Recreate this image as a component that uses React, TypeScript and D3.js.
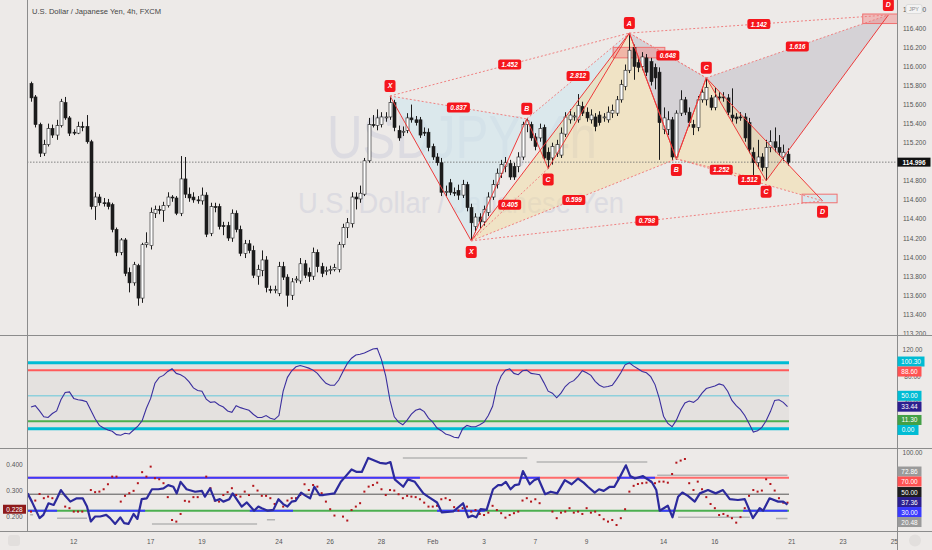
import { useEffect, useRef } from "react"
import * as d3 from "d3"

// ---- values ----------------------------------------------------------------

// USDJPY 4h candles: [open, high, low, close]
const candles: [number, number, number, number][] = [
  [115.82, 115.84, 115.63, 115.67], [115.68, 115.7, 115.36, 115.39], [115.39, 115.41, 115.05, 115.09], [115.09, 115.23, 115.06, 115.18], [115.18, 115.4, 115.16, 115.35],
  [115.35, 115.39, 115.25, 115.28], [115.28, 115.44, 115.23, 115.38], [115.38, 115.66, 115.36, 115.63], [115.62, 115.68, 115.44, 115.46], [115.46, 115.48, 115.27, 115.3],
  [115.31, 115.34, 115.28, 115.3], [115.3, 115.42, 115.29, 115.37], [115.37, 115.42, 115.32, 115.36], [115.37, 115.49, 115.19, 115.21], [115.21, 115.23, 114.5, 114.53],
  [114.53, 114.68, 114.39, 114.63], [114.63, 114.66, 114.54, 114.57], [114.57, 114.62, 114.53, 114.56], [114.57, 114.61, 114.5, 114.53], [114.55, 114.57, 114.26, 114.29],
  [114.29, 114.31, 114.01, 114.05], [114.05, 114.2, 114.02, 114.18], [114.18, 114.2, 113.8, 113.83], [113.84, 113.89, 113.63, 113.73], [113.73, 113.95, 113.7, 113.92],
  [113.91, 113.93, 113.49, 113.57], [113.57, 114.15, 113.52, 114.13], [114.13, 114.26, 114.1, 114.15], [114.12, 114.52, 114.08, 114.47], [114.46, 114.54, 114.41, 114.5],
  [114.5, 114.54, 114.45, 114.49], [114.49, 114.58, 114.37, 114.54], [114.54, 114.68, 114.52, 114.63], [114.63, 114.65, 114.58, 114.62], [114.62, 114.64, 114.44, 114.46],
  [114.46, 115.06, 114.43, 114.82], [114.82, 115.05, 114.62, 114.66], [114.66, 114.73, 114.58, 114.62], [114.63, 114.68, 114.57, 114.6], [114.6, 114.64, 114.56, 114.59],
  [114.59, 114.73, 114.55, 114.65], [114.65, 114.68, 114.21, 114.24], [114.25, 114.57, 114.22, 114.53], [114.53, 114.57, 114.47, 114.52], [114.53, 114.56, 114.29, 114.32],
  [114.33, 114.37, 114.23, 114.32], [114.33, 114.37, 114.17, 114.2], [114.2, 114.5, 114.16, 114.46], [114.46, 114.49, 114.26, 114.29], [114.29, 114.33, 114.01, 114.04],
  [114.04, 114.18, 113.99, 114.14], [114.14, 114.18, 114.04, 114.07], [114.07, 114.12, 113.78, 113.81], [113.8, 113.92, 113.71, 113.87], [113.86, 114.07, 113.8, 113.97],
  [113.97, 114.01, 113.63, 113.68], [113.66, 113.7, 113.62, 113.65], [113.65, 113.7, 113.62, 113.66], [113.62, 113.95, 113.59, 113.9], [113.9, 113.95, 113.76, 113.79],
  [113.79, 113.82, 113.48, 113.6], [113.6, 113.78, 113.55, 113.74], [113.76, 113.8, 113.73, 113.77], [113.75, 113.99, 113.72, 113.93], [113.93, 113.97, 113.78, 113.81],
  [113.84, 113.89, 113.74, 113.8], [113.8, 114.1, 113.76, 114.05], [114.05, 114.08, 113.84, 113.9], [113.9, 113.94, 113.79, 113.83], [113.85, 113.9, 113.81, 113.86],
  [113.86, 113.91, 113.82, 113.87], [113.87, 113.93, 113.85, 113.89], [113.87, 114.16, 113.84, 114.13], [114.13, 114.35, 114.1, 114.31], [114.31, 114.41, 114.2, 114.36],
  [114.35, 114.68, 114.31, 114.63], [114.63, 114.68, 114.5, 114.61], [114.61, 114.75, 114.57, 114.67], [114.66, 115.04, 114.64, 115.01], [115.01, 115.46, 114.99, 115.39],
  [115.39, 115.49, 115.36, 115.38], [115.38, 115.55, 115.33, 115.46], [115.39, 115.52, 115.36, 115.47], [115.46, 115.52, 115.42, 115.47], [115.47, 115.69, 115.44, 115.62],
  [115.62, 115.65, 115.32, 115.36], [115.33, 115.38, 115.22, 115.25], [115.31, 115.37, 115.27, 115.32], [115.33, 115.51, 115.3, 115.46], [115.46, 115.6, 115.41, 115.44],
  [115.44, 115.48, 115.38, 115.41], [115.44, 115.47, 115.25, 115.28], [115.31, 115.36, 115.27, 115.3], [115.31, 115.35, 115.11, 115.15], [115.16, 115.19, 115.02, 115.05],
  [115.05, 115.09, 114.96, 114.99], [114.99, 115.04, 114.64, 114.68], [114.68, 114.75, 114.64, 114.69], [114.78, 114.82, 114.65, 114.68], [114.68, 114.73, 114.64, 114.67],
  [114.7, 114.76, 114.6, 114.65], [114.65, 114.81, 114.62, 114.76], [114.76, 114.79, 114.48, 114.52], [114.52, 114.56, 114.17, 114.36], [114.32, 114.46, 114.26, 114.42],
  [114.42, 114.46, 114.3, 114.37], [114.37, 114.54, 114.33, 114.5], [114.47, 114.68, 114.43, 114.63], [114.63, 114.81, 114.6, 114.76], [114.76, 114.93, 114.72, 114.88],
  [114.88, 115.02, 114.83, 114.97], [114.95, 115.05, 114.89, 114.99], [114.98, 115.02, 114.81, 114.84], [114.95, 114.99, 114.81, 114.84], [114.95, 115.1, 114.89, 115.05],
  [115.05, 115.42, 115.02, 115.39], [115.39, 115.46, 115.31, 115.43], [115.39, 115.42, 115.22, 115.25], [115.26, 115.3, 115.12, 115.16], [115.25, 115.4, 115.21, 115.35],
  [115.36, 115.39, 115.02, 115.04], [115.1, 115.15, 114.93, 115.02], [115.04, 115.2, 114.97, 115.16], [115.09, 115.23, 115.05, 115.18], [115.07, 115.36, 115.04, 115.3],
  [115.29, 115.52, 115.26, 115.47], [115.44, 115.55, 115.4, 115.49], [115.47, 115.52, 115.43, 115.48], [115.44, 115.71, 115.41, 115.59], [115.58, 115.63, 115.48, 115.51],
  [115.52, 115.57, 115.42, 115.46], [115.44, 115.55, 115.4, 115.49], [115.47, 115.51, 115.32, 115.37], [115.49, 115.53, 115.38, 115.41], [115.46, 115.51, 115.42, 115.47],
  [115.44, 115.58, 115.41, 115.52], [115.51, 115.6, 115.46, 115.54], [115.51, 115.69, 115.48, 115.65], [115.65, 115.86, 115.62, 115.81], [115.79, 116.02, 115.75, 115.96],
  [115.96, 116.35, 115.93, 116.17], [116.2, 116.23, 115.86, 116.0], [116.04, 116.09, 115.94, 115.99], [116.0, 116.15, 115.96, 116.1], [116.09, 116.13, 115.9, 115.94],
  [116.05, 116.09, 115.8, 115.84], [115.99, 116.03, 115.76, 115.88], [115.94, 115.99, 115.02, 115.41], [115.34, 115.57, 115.29, 115.46], [115.34, 115.53, 115.28, 115.44],
  [115.44, 115.47, 115.02, 115.05], [115.05, 115.54, 115.02, 115.51], [115.51, 115.75, 115.48, 115.65], [115.65, 115.68, 115.49, 115.52], [115.52, 115.57, 115.37, 115.41],
  [115.39, 115.44, 115.28, 115.36], [115.36, 115.69, 115.32, 115.65], [115.65, 115.78, 115.62, 115.73], [115.65, 115.88, 115.59, 115.78], [115.67, 115.7, 115.54, 115.57],
  [115.57, 115.78, 115.54, 115.68], [115.68, 115.73, 115.64, 115.67], [115.68, 115.73, 115.63, 115.67], [115.67, 115.71, 115.49, 115.52], [115.49, 115.77, 115.42, 115.46],
  [115.47, 115.51, 115.4, 115.45], [115.47, 115.52, 115.43, 115.46], [115.47, 115.51, 115.21, 115.25], [115.41, 115.46, 115.09, 115.13], [115.1, 115.15, 114.85, 114.99],
  [114.99, 115.23, 114.93, 115.05], [115.05, 115.09, 114.9, 114.94], [114.94, 115.23, 114.8, 115.15], [115.15, 115.33, 115.1, 115.21], [115.21, 115.36, 115.1, 115.15],
  [115.15, 115.28, 115.06, 115.1], [115.05, 115.18, 115.01, 115.1], [115.08, 115.14, 114.96, 114.996],
]

const priceTicks = [113.2, 113.4, 113.6, 113.8, 114.0, 114.2, 114.4, 114.6, 114.8, 115.0, 115.2, 115.4, 115.6, 115.8, 116.0, 116.2, 116.4, 116.6]

// bar index of the first bar of each labelled day
const dayBars = [10, 28, 40, 58, 70, 82, 94, 106, 118, 130, 148, 160, 178, 190, 202]
const dayLabels = ["12", "17", "19", "24", "26", "28", "Feb", "3", "7", "9", "14", "16", "21", "23", "25"]

// harmonic pattern pivots (bar index, price)
const pivotBars = [84, 103, 116, 121, 140, 151, 158, 172, 185.2, 200.6]
const pivotPrices = [115.69, 114.17, 115.45, 114.93, 116.35, 115.03, 115.88, 114.8, 114.59, 116.54]
// X, A, B, C, D of each pattern as pivot indices
const patternLegs = [
  [0, 1, 2, 3, 4],
  [4, 5, 6, 7, 9],
  [1, 4, 5, 6, 8],
]
// XB, AC, BD, XD ratios
const patternRatios = [
  ["0.837", "0.405", "2.812", "1.452"],
  ["0.648", "1.252", "1.616", "1.142"],
  ["0.599", "0.648", "1.512", "0.798"],
]
// potential reversal zones: bar span and price span
const przBars: [number, number][] = [[136.2, 148.3], [194.6, 204], [180.4, 188.6]]
const przPrices: [number, number][] = [[116.09, 116.2], [116.45, 116.55], [114.57, 114.66]]

// oscillator (middle pane)
const oscValues = [
  33, 35, 27, 18, 17, 23, 27, 44, 55, 56,
  46, 44, 43, 41, 28, 15, 5, 1, -2, -4,
  -9, -10, -7, -8, -2, 4, 12, 31, 46, 69,
  78, 81, 87, 91, 84, 82, 78, 71, 62, 58,
  57, 45, 40, 41, 36, 33, 27, 25, 35, 32,
  30, 28, 22, 17, 17, 20, 16, 14, 20, 57,
  78, 88, 94, 96, 94, 92, 89, 84, 76, 69,
  66, 66, 74, 87, 99, 107, 112, 113, 115, 118,
  121, 122, 105, 80, 43, 18, 10, 6, 13, 22,
  28, 30, 26, 16, 10, 1, -3, -8, -10, -13,
  -14, 0, 5, 3, 3, 6, 10, 20, 34, 64,
  80, 89, 91, 84, 82, 88, 89, 84, 83, 82,
  70, 57, 54, 47, 54, 64, 70, 73, 80, 88,
  85, 81, 72, 66, 63, 64, 66, 75, 85, 97,
  100, 95, 91, 87, 85, 79, 67, 46, 19, 8,
  3, 13, 28, 39, 42, 40, 45, 54, 61, 63,
  65, 68, 66, 57, 43, 35, 29, 20, 8, -5,
  -3, 2, 12, 26, 43, 44, 40, 33.44,
]
const oscLevels = [100.3, 88.6, 50, 11.3, 0]
const oscAxisTicks = [120, 80, 40]

// lower pane: dotted series on the left scale
const dotValues = [
  0.219, 0.261, 0.286, 0.27, 0.276, 0.27, null, null, 0.238, 0.232,
  0.219, 0.219, 0.219, null, 0.301, 0.293, 0.295, 0.304, 0.323, 0.352,
  0.352, 0.257, 0.279, 0.289, 0.298, 0.327, 0.369, 0.352, 0.39, 0.346,
  0.342, 0.327, 0.274, 0.187, 0.181, 0.21, 0.26, 0.257, 0.274, 0.274,
  null, 0.352, 0.308, 0.261, 0.257, 0.282, 0.293, 0.308, 0.282, 0.276,
  0.295, 0.282, 0.317, 0.299, 0.279, 0.279, 0.27, 0.248, 0.263, 0.238,
  0.261, 0.27, 0.27, 0.282, 0.323, 0.301, 0.32, 0.314, 0.289, 0.257,
  0.228, 0.204, null, 0.2, 0.185, 0.225, 0.238, 0.251, 0.295, 0.314,
  0.32, 0.329, 0.304, 0.282, 0.301, 0.299, 0.285, 0.27, 0.279, 0.276,
  0.274, 0.266, 0.253, 0.238, 0.238, 0.241, 0.266, 0.27, 0.263, 0.236,
  0.223, 0.232, 0.238, 0.219, 0.225, 0.21, 0.206, 0.215, 0.241, 0.225,
  0.213, 0.196, 0.206, 0.213, 0.219, 0.261, 0.27, 0.257, 0.266, 0.251,
  null, null, 0.219, 0.194, 0.215, 0.219, 0.232, 0.215, 0.219, 0.21,
  0.232, 0.215, 0.219, 0.206, 0.19, 0.181, 0.187, 0.168, 0.194, 0.228,
  0.295, 0.317, 0.324, 0.327, 0.329, 0.333, 0.327, 0.333, 0.333, 0.329,
  0.362, 0.405, 0.413, 0.419, 0.327, 0.301, 0.333, 0.304, 0.274, 0.248,
  0.232, 0.206, 0.21, 0.203, 0.194, 0.177, 0.198, 0.232, 0.279, 0.301,
  0.295, 0.299, 0.342, 0.324, 0.299, 0.27, 0.253, 0.253,
]
const leftTicks = [0.4, 0.3, 0.2]
const leftLastValue = 0.228

// lower pane: main line on the right scale, (bar, value)
const lowerLine: [number, number][] = [
  [-0.8, 51], [0.2, 41], [2.0, 21], [2.9, 25], [4.1, 39], [5.3, 37], [6.1, 45], [7.0, 55], [8.0, 48], [9.2, 41],
  [10.7, 45], [12.1, 45], [13.1, 35], [14.0, 17], [15.0, 23], [16.2, 23], [17.6, 25], [18.5, 21], [19.7, 14], [20.9, 22],
  [21.8, 15], [22.8, 14], [24.0, 26], [24.9, 20], [25.9, 44], [27.1, 45], [28.3, 56], [29.8, 56], [31.0, 57], [32.1, 61],
  [33.3, 59], [34.1, 51], [35.0, 65], [36.4, 56], [38.4, 53], [40.0, 54], [40.7, 47], [41.9, 57], [43.1, 42], [44.2, 44],
  [45.0, 41], [46.4, 44], [47.2, 51], [48.5, 41], [49.3, 35], [50.5, 40], [52.2, 30], [53.2, 35], [54.0, 33], [55.4, 30],
  [56.7, 31], [57.9, 44], [59.0, 38], [60.0, 35], [61.0, 41], [61.9, 42], [63.2, 52], [64.3, 48], [65.3, 45], [66.3, 59],
  [67.5, 49], [68.4, 49], [71.0, 51], [72.5, 65], [73.5, 71], [75.0, 80], [76.2, 77], [77.4, 77], [78.9, 94], [81.6, 88],
  [83.0, 87], [84.1, 89], [85.1, 68], [87.1, 59], [88.2, 68], [89.8, 65], [91.8, 51], [92.9, 47], [95.0, 40], [96.1, 28],
  [98.8, 29], [101.1, 39], [102.3, 22], [103.3, 24], [104.2, 22], [105.2, 32], [106.6, 31], [108.1, 56], [109.3, 61], [110.1, 61],
  [111.1, 65], [112.2, 56], [113.2, 61], [114.2, 62], [115.1, 78], [116.7, 62], [117.7, 67], [118.7, 69], [120.3, 50], [121.6, 53],
  [123.1, 51], [124.9, 67], [126.5, 62], [128.0, 69], [129.3, 64], [130.3, 59], [131.9, 52], [132.9, 56], [134.0, 54], [135.4, 59],
  [136.5, 59], [137.8, 71], [139.2, 85], [140.2, 72], [141.3, 69], [143.2, 72], [144.0, 69], [145.2, 65], [146.3, 55], [147.1, 30],
  [149.0, 36], [150.1, 22], [151.4, 47], [152.4, 52], [153.7, 48], [155.3, 41], [156.5, 51], [158.4, 55], [160.2, 51], [161.9, 55],
  [163.5, 44], [165.4, 43], [167.0, 44], [168.9, 21], [170.5, 33], [171.3, 30], [172.8, 45], [174.8, 41], [176.0, 41], [177.0, 37.36],
]
const upperLevel = 70
const midLevel = 50
const lowerLevel = 30
// spans (bars) where the 70 / 30 levels are highlighted
const upperHits: [number, number][] = [[-1, 91], [114.4, 119.1], [137.1, 146]]
const lowerHits: [number, number][] = [[-1, 6.1], [13.1, 26.7], [51.2, 61.3], [95, 106.2], [147.2, 150.7], [166.6, 177]]
// short pivot levels: [fromBar, toBar, value]
const pivotLevels: [number, number, number][] = [
  [-0.2, 0.5, 25], [6.1, 13.1, 21], [28.3, 52.9, 14], [55.2, 57.1, 19], [87.0, 116.1, 94],
  [118.3, 144.2, 89], [146.5, 177, 72.86], [151.4, 168.2, 22], [174.3, 177, 20.48],
]

// ---- layout ---------------------------------------------------------------

const W = 932
const H = 550
const PL = 27
const PR = 897
const MAIN_B = 335
const OSC_B = 448.5
const LOW_B = 531.5
const BG = "#edeae8"
const FONT = "'Liberation Sans', Arial, sans-serif"
const RED = "#ee3b3b"
const TAG = "#f5161c"

function relax(ys: number[], h: number) {
  const out = ys.slice()
  for (let it = 0; it < 60; it++) {
    for (let i = 0; i < out.length - 1; i++) {
      const d = out[i + 1] - out[i]
      if (d < h) {
        const push = (h - d) / 2
        out[i] -= push
        out[i + 1] += push
      }
    }
  }
  return out
}

export default function App() {
  const ref = useRef<SVGSVGElement>(null)

  useEffect(() => {
    if (!ref.current) return
    const svg = d3.select(ref.current)
    svg.selectAll("*").remove()

    const n = candles.length
    const x = d3.scaleLinear().domain([0, 177]).range([31, 787.5])
    const yP = d3.scaleLinear().domain([113.4, 116.4]).range([314.3, 28.3])
    const yO = d3.scaleLinear().domain([0, 120]).range([428.7, 349.7])
    const yR = d3.scaleLinear().domain([lowerLevel, upperLevel]).range([510.7, 477.7])
    const yL = d3.scaleLinear().domain([0.2, 0.4]).range([516.6, 464])
    const lastX = x(n - 1) + 1.5

    svg.append("rect").attr("width", W).attr("height", H).attr("fill", BG)

    const defs = svg.append("defs")
    const clip = (id: string, cx: number, cy: number, w: number, h: number) =>
      defs.append("clipPath").attr("id", id).append("rect").attr("x", cx).attr("y", cy).attr("width", w).attr("height", h)
    clip("c-main", PL, 0, PR - PL, MAIN_B)
    clip("c-osc", PL, MAIN_B, PR - PL, OSC_B - MAIN_B)
    clip("c-low", PL, OSC_B, PR - PL, LOW_B - OSC_B)
    clip("c-axis", PR, 0, W - PR, MAIN_B)
    clip("c-time", 0, LOW_B, PR, H - LOW_B)

    // ---------- main pane ----------
    const main = svg.append("g").attr("clip-path", "url(#c-main)")

    main.append("text")
      .attr("x", 462).attr("y", 158).attr("text-anchor", "middle")
      .attr("font-family", FONT).attr("font-size", 62).attr("fill", "#dcdbe1")
      .attr("textLength", 270).attr("lengthAdjust", "spacingAndGlyphs")
      .text("USDJPY, 4h")
    main.append("text")
      .attr("x", 461).attr("y", 213).attr("text-anchor", "middle")
      .attr("font-family", FONT).attr("font-size", 29).attr("fill", "#dcdbe1")
      .attr("textLength", 326).attr("lengthAdjust", "spacingAndGlyphs")
      .text("U.S. Dollar / Japanese Yen")

    const pt = (i: number): [number, number] => [x(pivotBars[i]), yP(pivotPrices[i])]
    const fills = ["#cfe6ef", "#b8b6c0", "#f5dc9c"]
    const fillOp = [0.6, 0.45, 0.45]

    patternLegs.forEach((legs, k) => {
      const [X, A, B, C, D] = legs.map(pt)
      ;[[X, A, B], [B, C, D]].forEach((tri) => {
        main.append("path")
          .attr("d", "M" + tri.map((p) => p.join(",")).join("L") + "Z")
          .attr("fill", fills[k]).attr("fill-opacity", fillOp[k])
      })
    })

    const przFill = ["#f08a8a", "#f08a8a", "#d3e6ee"]
    przBars.forEach(([b0, b1], i) => {
      const [p0, p1] = przPrices[i]
      main.append("rect")
        .attr("x", x(b0)).attr("y", yP(p1))
        .attr("width", x(b1) - x(b0)).attr("height", yP(p0) - yP(p1))
        .attr("fill", przFill[i]).attr("fill-opacity", i === 2 ? 0.8 : 0.5)
        .attr("stroke", "#f07070").attr("stroke-width", 1)
    })

    // last price line
    main.append("line")
      .attr("x1", PL).attr("x2", PR)
      .attr("y1", yP(candles[n - 1][3])).attr("y2", yP(candles[n - 1][3]))
      .attr("stroke", "#666").attr("stroke-width", 0.8).attr("stroke-dasharray", "1.5,1.5")

    // candles
    const cg = main.append("g")
    candles.forEach(([o, h, l, c], i) => {
      const cx = Math.round(x(i)) + 0.5
      cg.append("line")
        .attr("x1", cx).attr("x2", cx).attr("y1", yP(h)).attr("y2", yP(l))
        .attr("stroke", "#1c1c1c").attr("stroke-width", 1)
      const top = yP(Math.max(o, c))
      const bot = yP(Math.min(o, c))
      cg.append("rect")
        .attr("x", cx - 1.5).attr("y", top)
        .attr("width", 3).attr("height", Math.max(bot - top, 0.8))
        .attr("fill", c >= o ? "#ffffff" : "#1c1c1c")
        .attr("stroke", "#1c1c1c").attr("stroke-width", 0.6)
    })

    // pattern legs and ratio lines
    const pairs = [[0, 2], [1, 3], [2, 4], [0, 4]]
    const lg = main.append("g")
    patternLegs.forEach((legs) => {
      const P = legs.map(pt)
      lg.append("path")
        .attr("d", d3.line()(P))
        .attr("fill", "none").attr("stroke", RED).attr("stroke-width", 1)
      pairs.forEach(([a, b]) => {
        lg.append("line")
          .attr("x1", P[a][0]).attr("y1", P[a][1]).attr("x2", P[b][0]).attr("y2", P[b][1])
          .attr("stroke", "#f08080").attr("stroke-width", 1).attr("stroke-dasharray", "2,2")
      })
    })

    const tag = (g: d3.Selection<SVGGElement, unknown, null, undefined>, cx: number, cy: number, text: string, w: number, h: number, size: number) => {
      g.append("rect")
        .attr("x", cx - w / 2).attr("y", cy - h / 2).attr("width", w).attr("height", h)
        .attr("rx", 2).attr("fill", TAG)
      g.append("text")
        .attr("x", cx).attr("y", cy).attr("text-anchor", "middle").attr("dominant-baseline", "central")
        .attr("font-family", FONT).attr("font-size", size).attr("font-style", "italic").attr("font-weight", 700)
        .attr("fill", "#fff").text(text)
    }

    // later patterns sit on top: keep only the label that stays visible at each spot
    const ratioAt = new Map<string, [number, number, string]>()
    const letterAt = new Map<number, [string, boolean]>()
    const letters = ["X", "A", "B", "C", "D"]
    patternLegs.forEach((legs, k) => {
      pairs.forEach(([a, b], j) => {
        const i0 = Math.min(legs[a], legs[b])
        const i1 = Math.max(legs[a], legs[b])
        ratioAt.set(`${i0}-${i1}`, [i0, i1, patternRatios[k][j]])
      })
      legs.forEach((pi, j) => {
        const other = legs[j === 0 ? 1 : j - 1]
        letterAt.set(pi, [letters[j], pivotPrices[pi] > pivotPrices[other]])
      })
    })

    const tg = main.append("g")
    ratioAt.forEach(([i0, i1, text]) => {
      const [ax0, ay0] = pt(i0)
      const [ax1, ay1] = pt(i1)
      tag(tg, (ax0 + ax1) / 2, (ay0 + ay1) / 2, text, 23, 10, 6.5)
    })
    letterAt.forEach(([letter, high], pi) => {
      const [px, py] = pt(pi)
      tag(tg, px, high ? py - 10 : py + 11, letter, 11, 12, 7)
    })

    // ---------- middle oscillator pane ----------
    const osc = svg.append("g").attr("clip-path", "url(#c-osc)")
    osc.append("rect")
      .attr("x", PL).attr("y", yO(oscLevels[0]))
      .attr("width", lastX - PL).attr("height", yO(0) - yO(oscLevels[0]))
      .attr("fill", "#000").attr("fill-opacity", 0.035)
    const lvlStyle = [
      ["#00bcd4", 3], ["#ff5a5a", 2], ["#8ed0dc", 1.5], ["#4caf50", 2], ["#00bcd4", 3],
    ] as const
    oscLevels.forEach((v, i) => {
      osc.append("line")
        .attr("x1", PL).attr("x2", lastX).attr("y1", yO(v)).attr("y2", yO(v))
        .attr("stroke", lvlStyle[i][0]).attr("stroke-width", lvlStyle[i][1])
    })
    osc.append("path")
      .attr("d", d3.line<number>().x((_, i) => x(i)).y((v) => yO(v))(oscValues))
      .attr("fill", "none").attr("stroke", "#3b2f9e").attr("stroke-width", 1.1)

    // ---------- lower pane ----------
    const low = svg.append("g").attr("clip-path", "url(#c-low)")
    pivotLevels.forEach(([b0, b1, v]) => {
      low.append("line")
        .attr("x1", x(b0)).attr("x2", x(b1)).attr("y1", yR(v)).attr("y2", yR(v))
        .attr("stroke", "#b4b4b4").attr("stroke-width", 1.5)
    })
    low.append("line")
      .attr("x1", PL).attr("x2", lastX).attr("y1", yR(midLevel)).attr("y2", yR(midLevel))
      .attr("stroke", "#555").attr("stroke-width", 1)
    const levelLine = (v: number, base: string, hits: [number, number][]) => {
      low.append("line")
        .attr("x1", PL).attr("x2", lastX).attr("y1", yR(v)).attr("y2", yR(v))
        .attr("stroke", base).attr("stroke-width", 2)
      hits.forEach(([b0, b1]) => {
        low.append("line")
          .attr("x1", Math.max(PL, x(b0))).attr("x2", Math.min(lastX, x(b1))).attr("y1", yR(v)).attr("y2", yR(v))
          .attr("stroke", "#3a3aff").attr("stroke-width", 2)
      })
    }
    levelLine(upperLevel, "#ff6b6b", upperHits)
    levelLine(lowerLevel, "#4caf50", lowerHits)

    dotValues.forEach((v, i) => {
      if (v == null) return
      low.append("rect")
        .attr("x", x(i) - 1).attr("y", yL(v) - 1).attr("width", 2).attr("height", 2)
        .attr("fill", "#b3141b")
    })
    low.append("path")
      .attr("d", d3.line<[number, number]>().x((d) => x(d[0])).y((d) => yR(d[1]))(lowerLine))
      .attr("fill", "none").attr("stroke", "#2c2a9c").attr("stroke-width", 2.2)
      .attr("stroke-linejoin", "round")

    // ---------- frame ----------
    const frame = svg.append("g").attr("stroke", "#8c8c8c").attr("stroke-width", 1).attr("shape-rendering", "crispEdges")
    ;[MAIN_B, OSC_B, LOW_B].forEach((yy) => frame.append("line").attr("x1", 0).attr("x2", W).attr("y1", yy).attr("y2", yy))
    frame.append("line").attr("x1", PL).attr("x2", PL).attr("y1", 0).attr("y2", LOW_B)
    frame.append("line").attr("x1", PR).attr("x2", PR).attr("y1", 0).attr("y2", H)

    const label = (g: d3.Selection<SVGGElement, unknown, null, undefined>, tx: number, ty: number, text: string, color = "#555") =>
      g.append("text")
        .attr("x", tx).attr("y", ty).attr("text-anchor", "middle").attr("dominant-baseline", "central")
        .attr("font-family", FONT).attr("font-size", 6.5).attr("fill", color).text(text)

    // title
    svg.append("text")
      .attr("x", 32).attr("y", 13.5)
      .attr("font-family", FONT).attr("font-size", 7.6).attr("fill", "#454545")
      .text("U.S. Dollar / Japanese Yen, 4h, FXCM")

    // main price axis
    const ax = svg.append("g").attr("clip-path", "url(#c-axis)")
    priceTicks.forEach((p) => label(ax, 914.5, yP(p), p.toFixed(3)))
    ax.append("rect").attr("x", 906).attr("y", 4.5).attr("width", 16).attr("height", 9).attr("rx", 2)
      .attr("fill", "#f3f3f3").attr("stroke", "#cfcfcf").attr("stroke-width", 0.6)
    label(ax, 914, 9, "JPY", "#8a8a8a").attr("font-size", 5.5)
    const lastY = yP(candles[n - 1][3])
    ax.append("rect").attr("x", 897.5).attr("y", lastY - 4.5).attr("width", 33).attr("height", 9).attr("fill", "#111")
    label(ax, 914, lastY, candles[n - 1][3].toFixed(3), "#fff").attr("font-weight", 700)

    // oscillator axis
    const oa = svg.append("g")
    oscAxisTicks.forEach((v) => label(oa, 912.5, yO(v), v.toFixed(2)))
    const boxTags = (vals: number[], ys: number[], colors: string[]) => {
      const rel = relax(ys, 10)
      vals.forEach((v, i) => {
        const t = v.toFixed(2)
        const w = 9 + t.length * 3
        oa.append("rect").attr("x", 897.5).attr("y", rel[i] - 5).attr("width", w).attr("height", 10).attr("fill", colors[i])
        label(oa, 897.5 + w / 2, rel[i], t, "#fff")
      })
    }
    const oscTagVals = [oscLevels[0], oscLevels[1], oscLevels[2], oscValues[n - 1], oscLevels[3], oscLevels[4]]
    boxTags(oscTagVals, oscTagVals.map(yO), ["#00bcd4", "#ff5252", "#00bcd4", "#2c1f8f", "#43a047", "#00bcd4"])

    label(oa, 912.5, yR(100), "100.00")
    const lowTagVals = [72.86, upperLevel, midLevel, lowerLine[lowerLine.length - 1][1], lowerLevel, 20.48]
    boxTags(lowTagVals, lowTagVals.map(yR), ["#9a9a9a", "#ff5252", "#1e1e1e", "#2c1f8f", "#3a3aff", "#9a9a9a"])

    // left axis of lower pane
    leftTicks.forEach((v) => label(oa, 14.5, yL(v), v.toFixed(3)))
    oa.append("rect").attr("x", 3).attr("y", yL(leftLastValue) - 4.5).attr("width", 23).attr("height", 9).attr("fill", "#8e1a1a")
    label(oa, 14.5, yL(leftLastValue), leftLastValue.toFixed(3), "#fff")

    // time axis
    const ta = svg.append("g").attr("clip-path", "url(#c-time)")
    dayBars.forEach((b, i) => label(ta, x(b), 541, dayLabels[i]))
    svg.append("rect").attr("x", 8).attr("y", 535).attr("width", 12).attr("height", 11).attr("rx", 3).attr("fill", "#e2dfdd")
    label(oa, 14, 540.5, "Z", "#666")
    svg.append("circle").attr("cx", 915).attr("cy", 540.5).attr("r", 6).attr("fill", "#e2dfdd")
    label(oa, 915, 540.5, "A", "#666")
  }, [])

  return (
    <div style={{ position: "absolute", left: 0, top: 0 }}>
      <svg ref={ref} width={W} height={H} style={{ display: "block" }} />
    </div>
  )
}
